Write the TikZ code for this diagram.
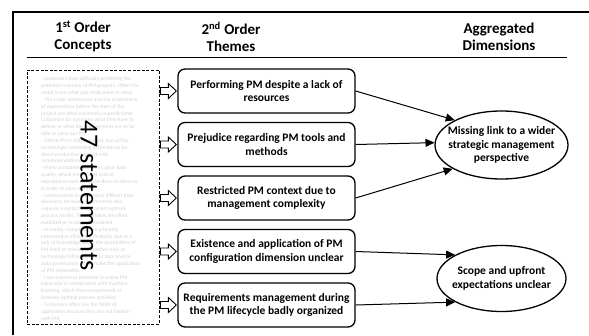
\documentclass[tikz,border=0pt]{standalone}
\usepackage{fontspec}
\setmainfont{Carlito}
\usetikzlibrary{arrows.meta,shapes.geometric}
\begin{document}
\begin{tikzpicture}[x=1pt,y=-1pt,
  head/.style={align=center, inner sep=0pt, font=\bfseries\fontsize{15}{17}\selectfont},
  theme/.style={draw, line width=1.3pt, rounded corners=7pt, minimum width=177pt, minimum height=44pt, inner sep=0pt, align=center, font=\bfseries\fontsize{11.5}{13.5}\selectfont},
  dim/.style={draw, ellipse, line width=1.3pt, inner sep=0pt},
  dimtext/.style={align=center, inner sep=0pt, font=\bfseries\fontsize{11.5}{13.5}\selectfont},
  link/.style={line width=1pt, -{Triangle[length=9pt,width=8pt]}},
  hollow/.style={draw, line width=0.9pt, fill=white, line join=miter},
  stmtbox/.style={draw, line width=0.9pt, dash pattern=on 3pt off 1.6pt, minimum width=132pt, minimum height=254pt, inner sep=0pt},
  faint/.style={align=left, inner sep=0pt, text=black!18, font=\fontsize{5.4}{6.83}\selectfont},
  big/.style={rotate=-90, inner sep=0pt, font=\fontsize{26}{28}\selectfont}
]
\useasboundingbox (0,0) rectangle (589,335);
% frame
\draw[line width=1.2pt] (13,335) -- (13,12) -- (589,12);
% header
\node[head] (h1) at (83,36.5) {1\textsuperscript{st} Order\\Concepts};
\node[head] (h2) at (231,36.5) {2\textsuperscript{nd} Order\\Themes};
\node[head] (h3) at (499,36.5) {Aggregated\\Dimensions};
\coordinate (rl) at (27,57);
\coordinate (rr) at (567,57);
\draw[line width=1pt] (rl) -- (rr);
% statements
\node[stmtbox] (stmts) at (93,197) {};
\node[faint, anchor=north west] (stmttext) at (41,77) {- Customers have difficulty predicting the\\
potential outcome of PM projects. Often the\\
result is not what you really want or need.\\
- The scope assessment and the assessment\\
of expectations before the start of the\\
project are often extremely unpredictable.\\
Customers do not know what they have to\\
deliver or what the requirements are to be\\
able to carry out PM.\\
- Online PM is still little used, but will be\\
increasingly interesting in the future for\\
direct production support with\\
recommendations.\\
- Many companies have very poor data\\
quality, which means that a lot of\\
educational work has to be done in advance\\
in order to carry out PM.\\
- Conformance is much more difficult than\\
discovery, because conformance also\\
requires a syntactically correct upfront\\
process model. These models are often\\
outdated or incorrectly modeled.\\
- In reality, companies are primarily\\
interested in efficiency. Probably due to a\\
lack of knowledge about the possibilities of\\
PM itself or missing properties such as\\
technology/infrastructure or data and/or\\
data governance, which make the application\\
of PM impossible.\\
- I see enormous potential in online PM.\\
Especially in combination with machine\\
learning, which then recommends or\\
foresees optimal process activities.\\
- Customers often mix the fields of\\
application because they are not familiar\\
with PM.};
\node[big] (n47) at (89,196) {47 statements};
% themes
\node[theme] (t1) at (266.5,91) {Performing PM despite a lack of\\resources};
\node[theme] (t2) at (266.5,144.5) {Prejudice regarding PM tools and\\methods};
\node[theme] (t3) at (266.5,198) {Restricted PM context due to\\management complexity};
\node[theme] (t4) at (266.5,251.5) {Existence and application of PM\\configuration dimension unclear};
\node[theme] (t5) at (266.5,305) {Requirements management during\\the PM lifecycle badly organized};
\foreach \t in {t1,t2,t3,t4,t5}
  \draw[hollow, shift={(\t.west)}] (-17,-3.5) -- (-9,-3.5) -- (-9,-7.5) -- (-1,0) -- (-9,7.5) -- (-9,3.5) -- (-17,3.5) -- cycle;
% dimensions
\node[dim, minimum width=133pt, minimum height=68pt] (e1) at (501.5,145) {};
\node[dimtext] (e1t) at (e1.center) {Missing link to a wider\\strategic management\\perspective};
\node[dim, minimum width=129pt, minimum height=66pt] (e2) at (501.5,278.5) {};
\node[dimtext] (e2t) at (e2.center) {Scope and upfront\\expectations unclear};
% links
\draw[link] (t1.east) -- (e1.152);
\draw[link] (t2.east) -- (e1.178);
\draw[link] (t3.east) -- (e1.206);
\draw[link] (t4.east) -- (e2.153);
\draw[link] (t5.east) -- (e2.207);
\end{tikzpicture}
\end{document}
